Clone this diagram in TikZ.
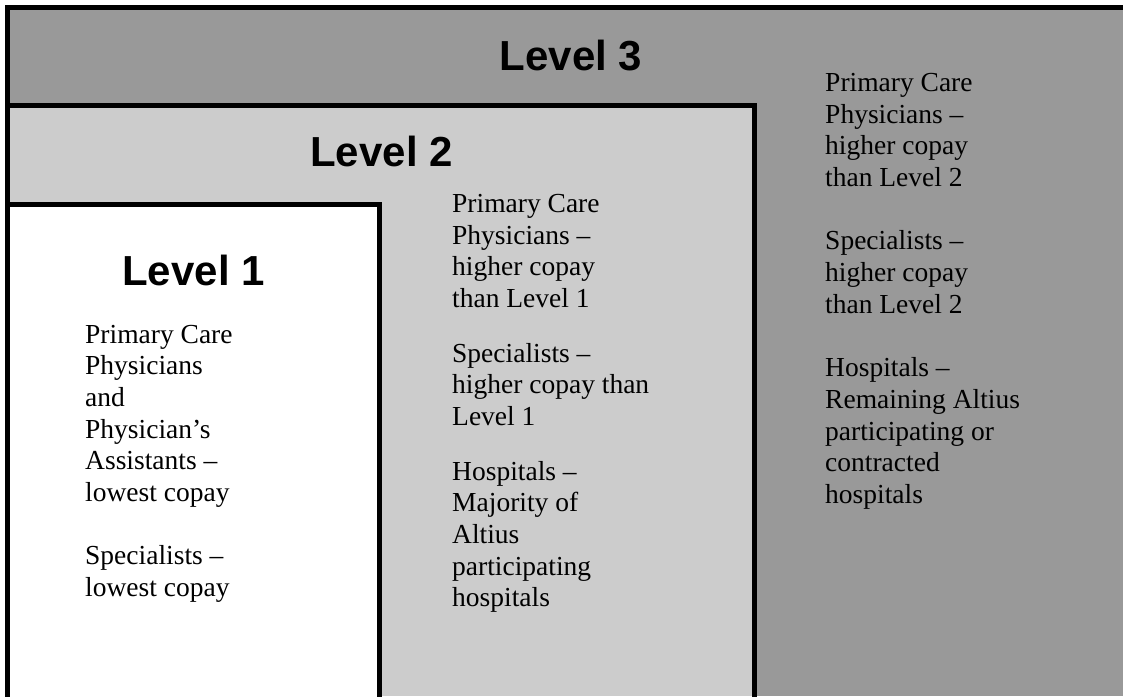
\documentclass[tikz,border=0pt]{standalone}
\usepackage{fontspec}
\newfontfamily\headfont{Liberation Sans}
\newfontfamily\bodyfont{Liberation Serif}
\definecolor{lvlthree}{HTML}{999999}
\definecolor{lvltwo}{HTML}{CCCCCC}
\begin{document}
\begin{tikzpicture}[x=1pt,y=-1pt,
  frame/.style={line width=5pt,line cap=rect,draw=black},
  heading/.style={anchor=base,inner sep=0pt,font={\headfont\bfseries\fontsize{42}{48}\selectfont}},
  bodytext/.style={anchor=base west,inner sep=0pt,align=left,font={\bodyfont\fontsize{27.5}{31.7}\selectfont}}]
\useasboundingbox (0,0) rectangle (1123,696);
% Level 3 region
\fill[lvlthree] (7.5,7.5) rectangle (1123,696);
% Level 2 region
\fill[lvltwo] (7.5,105.5) rectangle (754.5,696);
\draw[frame] (754.5,700) -- (754.5,105.5) -- (7.5,105.5);
% Level 1 region
\fill[white] (7.5,204.5) rectangle (379.5,696);
\draw[frame] (379.5,700) -- (379.5,204.5) -- (7.5,204.5);
% outer frame
\draw[frame,line cap=butt] (7.5,700) -- (7.5,7.5) -- (1130,7.5);
% headings
\node[heading] (h3) at (571,70) {Level 3};
\node[heading] (h2) at (381.5,166.7) {Level 2};
\node[heading] (h1) at (193.5,285) {Level 1};
% texts (anchor base = baseline of last line)
\node[bodytext] (t1) at (85,596.6) {Primary Care\\Physicians\\and\\Physician’s\\Assistants –\\lowest copay\\[31.7pt]Specialists –\\lowest copay};
\node[bodytext] (t2) at (452,606.8) {Primary Care\\Physicians –\\higher copay\\than Level 1\\[22.9pt]Specialists –\\higher copay than\\Level 1\\[22.9pt]Hospitals –\\Majority of\\Altius\\participating\\hospitals};
\node[bodytext] (t3) at (825,503.5) {Primary Care\\Physicians –\\higher copay\\than Level 2\\[31.7pt]Specialists –\\higher copay\\than Level 2\\[31.7pt]Hospitals –\\Remaining Altius\\participating or\\contracted\\hospitals};
\end{tikzpicture}
\end{document}
